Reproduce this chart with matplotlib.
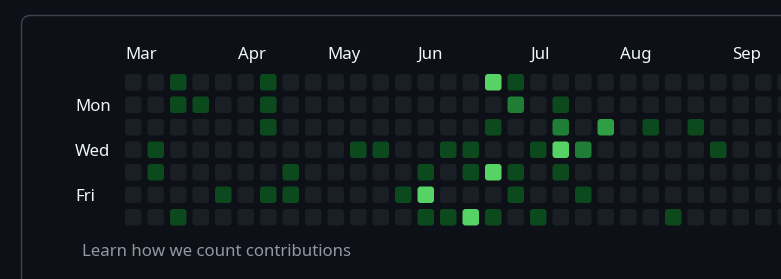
import matplotlib.pyplot as plt
import numpy as np
from matplotlib.patches import FancyBboxPatch

# contribution levels (0-4), one list per weekday row, one entry per week column
weekdays = ['Sun', 'Mon', 'Tue', 'Wed', 'Thu', 'Fri', 'Sat']
day_labels = {1: 'Mon', 3: 'Wed', 5: 'Fri'}
n_weeks = 30
row_sun = [0, 0, 1, 0, 0, 0, 1, 0, 0, 0, 0, 0, 0, 0, 0, 0, 4, 1, 0, 0, 0, 0, 0, 0, 0, 0, 0, 0, 0, 0]
row_mon = [0, 0, 1, 1, 0, 0, 1, 0, 0, 0, 0, 0, 0, 0, 0, 0, 0, 2, 0, 1, 0, 0, 0, 0, 0, 0, 0, 0, 0, 0]
row_tue = [0, 0, 0, 0, 0, 0, 1, 0, 0, 0, 0, 0, 0, 0, 0, 0, 1, 0, 0, 2, 0, 3, 0, 1, 0, 1, 0, 0, 0, 0]
row_wed = [0, 1, 0, 0, 0, 0, 0, 0, 0, 0, 1, 1, 0, 0, 1, 1, 0, 0, 1, 4, 2, 0, 0, 0, 0, 0, 1, 0, 0, 0]
row_thu = [0, 1, 0, 0, 0, 0, 0, 1, 0, 0, 0, 0, 0, 1, 0, 1, 4, 1, 0, 1, 0, 0, 0, 0, 0, 0, 0, 0, 0, 0]
row_fri = [0, 0, 0, 0, 1, 0, 1, 1, 0, 0, 0, 0, 1, 4, 0, 0, 0, 1, 0, 0, 1, 0, 0, 0, 0, 0, 0, 0, 0, 0]
row_sat = [0, 0, 1, 0, 0, 0, 0, 0, 0, 0, 0, 0, 0, 1, 1, 4, 1, 0, 1, 0, 0, 0, 0, 0, 1, 0, 0, 0, 0, 0]

months = ['Mar', 'Apr', 'May', 'Jun', 'Jul', 'Aug', 'Sep']
month_start_week = [0, 5, 9, 13, 18, 22, 27]

level_colors = ['#1a1e25', '#0c4a1d', '#1f7d35', '#2ea043', '#56d364']
bg = '#0d1117'

levels = np.array([row_sun, row_mon, row_tue, row_wed, row_thu, row_fri, row_sat])

fig = plt.figure(figsize=(7.81, 2.79), dpi=100, facecolor=bg)
ax = fig.add_axes([0, 0, 1, 1])
ax.set_xlim(0, 781)
ax.set_ylim(279, 0)
ax.axis('off')
ax.set_facecolor(bg)

# card outline
ax.add_patch(FancyBboxPatch((21.5, 15.5), 800, 300,
                            boxstyle='round,pad=0,rounding_size=9',
                            fc=bg, ec='#3d444d', lw=1.0))

x0, y0, pitch, size = 125, 74, 22.5, 16.5
for r in range(levels.shape[0]):
    for c in range(levels.shape[1]):
        ax.add_patch(FancyBboxPatch((x0 + c * pitch, y0 + r * pitch), size, size,
                                    boxstyle='round,pad=0,rounding_size=3',
                                    fc=level_colors[levels[r, c]], ec='none'))

for m, w in zip(months, month_start_week):
    ax.text(x0 + w * pitch, 55, m, color='#f0f6fc', fontsize=12.1,
            family='Noto Sans', ha='left', va='center')

for r, lab in day_labels.items():
    ax.text(75, y0 + r * pitch + size / 2 + 2, lab, color='#f0f6fc', fontsize=12.1,
            family='Noto Sans', ha='left', va='center')

ax.text(82, 252, 'Learn how we count contributions', color='#9198a1',
        fontsize=12.1, family='Noto Sans', ha='left', va='center')

fig.savefig('out.png', dpi=100, facecolor=bg)
